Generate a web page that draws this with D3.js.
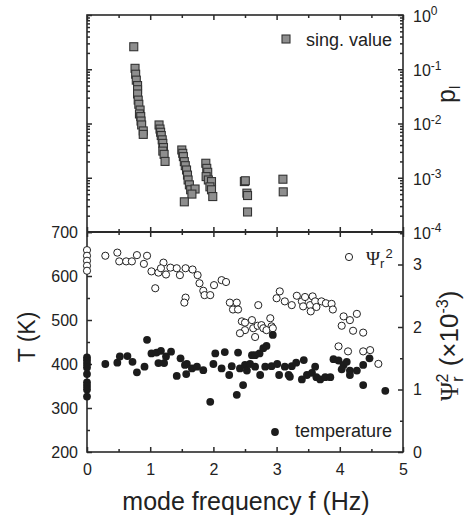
<!DOCTYPE html>
<html>
<head>
<meta charset="utf-8">
<script src="https://cdn.jsdelivr.net/npm/d3@7"></script>
<style>
  body { margin: 0; background: #fff; }
  svg { font-family: "Liberation Sans", Arial, Helvetica, sans-serif; }
  .axis path { display: none; }
  .axis line { stroke: #2a2a2a; stroke-width: 1.5; }
  .axis text { fill: #222; font-size: 16px; }
</style>
</head>
<body>
<div class="chart"></div>
<script>
// singular values (top panel)
var svFreq = [0.74, 0.76, 0.77, 0.78, 0.80, 0.80, 0.80, 0.81, 0.82, 0.84, 0.83, 0.85, 0.855, 0.865, 0.89, 0.89,
  1.14, 1.155, 1.165, 1.175, 1.19, 1.20, 1.21, 1.20, 1.22, 1.235,
  1.50, 1.515, 1.525, 1.54, 1.555, 1.575, 1.59, 1.60, 1.62, 1.64, 1.71, 1.66, 1.54,
  1.88, 1.895, 1.91, 1.885, 1.92, 1.97, 1.945, 1.97, 1.99,
  2.49, 2.505, 2.53, 2.54, 2.54, 3.10, 3.105];
var svValue = [0.26, 0.104, 0.081, 0.063, 0.050, 0.042, 0.035, 0.027, 0.0226, 0.0177, 0.0150, 0.0134, 0.0111, 0.0094, 0.0073, 0.0063,
  0.0094, 0.0079, 0.0069, 0.0060, 0.0050, 0.0043, 0.0036, 0.0031, 0.0027, 0.0020,
  0.00325, 0.00282, 0.00245, 0.00198, 0.00167, 0.00139, 0.00112, 0.00091, 0.00074, 0.00060, 0.00062, 0.00050, 0.00036,
  0.00185, 0.00149, 0.00126, 0.00105, 0.00091, 0.00085, 0.00068, 0.00060, 0.00045,
  0.00085, 0.00088, 0.00052, 0.00047, 0.000234, 0.00094, 0.00055];

// temperature (bottom panel, left axis)
var tFreq = [0, 0, 0, 0, 0, 0, 0, 0, 0,
  0.29, 0.48, 0.52, 0.64, 0.72, 0.79, 0.91, 0.95, 1.02, 1.10,
  1.13, 1.17, 1.22, 1.25, 1.33, 1.42, 1.48, 1.55, 1.57, 1.58,
  1.66, 1.74, 1.84, 1.95, 2.00, 2.03, 2.13, 2.18, 2.25, 2.29,
  2.37, 2.39, 2.42, 2.47, 2.50, 2.53, 2.58, 2.61, 2.66, 2.73,
  2.66, 2.74, 2.79, 2.84, 2.82, 2.94, 2.92, 3.01, 3.04, 3.13,
  3.19, 3.24, 3.31, 3.21, 3.40, 3.43, 3.48, 3.56, 3.61, 3.63,
  3.69, 3.77, 3.85, 3.90, 3.98, 4.06, 4.11, 4.03, 4.16, 4.16,
  4.27, 4.37, 4.47, 4.37, 4.72];
var tTemp = [415, 408, 400, 392, 377, 358, 350, 342, 326,
  400, 403, 417, 418, 405, 381, 394, 455, 424, 426,
  402, 430, 402, 417, 428, 373, 413, 398, 377, 400,
  390, 394, 386, 314, 400, 424, 390, 427, 375, 395,
  330, 426, 390, 352, 398, 385, 400, 420, 420, 424,
  394, 375, 436, 441, 394, 466, 395, 400, 375, 394,
  375, 395, 403, 371, 365, 409, 375, 380, 394, 370,
  365, 370, 370, 411, 408, 398, 405, 388, 385, 375,
  385, 398, 413, 352, 339];

// Psi_r^2 (bottom panel, right axis, x10^-3)
var psiFreq = [0, 0, 0, 0, 0,
  0.29, 0.48, 0.51, 0.62, 0.71, 0.79, 0.90, 0.95, 1.02, 1.08,
  1.13, 1.21, 1.17, 1.25, 1.32, 1.42, 1.47, 1.56, 1.56, 1.54,
  1.67, 1.75, 1.78, 1.84, 1.86, 1.95, 2.01, 2.13, 2.20, 2.26,
  2.37, 2.31, 2.39, 2.71, 2.45, 2.50, 2.61, 2.63, 2.70, 2.76,
  2.90, 2.92, 2.42, 2.66, 2.79, 2.84, 2.94, 2.50, 3.05, 3.00,
  3.13, 3.24, 3.32, 3.40, 3.42, 3.45, 3.53, 3.57, 3.61, 3.54,
  3.63, 3.71, 3.78, 3.87, 3.89, 4.06, 4.03, 4.16, 4.27, 4.21,
  4.37, 3.98, 4.13, 4.37, 4.48, 4.61];
var psiValue = [3.23, 3.14, 3.06, 2.98, 2.90,
  3.14, 3.19, 3.05, 3.05, 3.05, 3.15, 3.01, 3.14, 2.89, 2.62,
  2.87, 3.03, 2.94, 2.84, 2.95, 2.94, 2.83, 2.94, 2.47, 2.39,
  2.92, 2.83, 2.70, 2.58, 2.51, 2.51, 2.67, 2.75, 2.72, 2.39,
  2.39, 2.28, 2.28, 2.35, 2.09, 1.95, 2.11, 1.98, 2.02, 2.03,
  2.14, 2.01, 1.90, 1.84, 1.98, 1.95, 1.98, 2.07, 2.57, 2.46,
  2.41, 2.35, 2.50, 2.41, 2.33, 2.48, 2.35, 2.49, 2.41, 2.25,
  2.32, 2.41, 2.38, 2.37, 2.28, 2.17, 2.02, 2.11, 2.21, 1.94,
  1.91, 1.69, 1.61, 1.61, 1.63, 1.41];

var freqTicks = [0, 1, 2, 3, 4, 5];
var tempTicks = [200, 300, 400, 500, 600, 700];
var psiTicks = [0, 1, 2, 3];
var pDecades = [1, 0.1, 0.01, 0.001, 0.0001];

var svgWidth = 467;
var svgHeight = 520;
var plot = { left: 87, right: 403, top: 15, mid: 232, bottom: 452 };

var svg = d3.select(".chart")
  .append("svg")
  .attr("width", svgWidth)
  .attr("height", svgHeight);

var x = d3.scaleLinear().domain([0, 5]).range([plot.left, plot.right]);
var yP = d3.scaleLog().domain([1e-4, 1]).range([plot.mid, plot.top]);
var yT = d3.scaleLinear().domain([200, 700]).range([plot.bottom, plot.mid]);
var yPsi = d3.scaleLinear().domain([0, 3.52]).range([plot.bottom, plot.mid]);

// minor tick values
var halfSteps = d3.range(0, 5.01, 0.5).filter(function(d) { return d % 1 !== 0; });
var tempMinor = d3.range(250, 700, 100);
var psiMinor = [0.5, 1.5, 2.5, 3.5].filter(function(d) { return d < 3.52; });
var pMinor = [];
pDecades.forEach(function(dec) {
  if (dec >= 1) return;
  for (var k = 2; k <= 9; k++) pMinor.push(dec * k);
});

function addAxis(axisFn, scale, values, size, pos, fmt, padding) {
  var ax = axisFn(scale).tickValues(values).tickSize(size).tickSizeOuter(0)
    .tickPadding(padding || 3)
    .tickFormat(fmt || function() { return ""; });
  return svg.append("g").attr("class", "axis").attr("transform", pos).call(ax);
}

// upper panel ticks
addAxis(d3.axisTop, x, freqTicks, -5, "translate(0," + plot.top + ")");
addAxis(d3.axisTop, x, halfSteps, -3, "translate(0," + plot.top + ")");
addAxis(d3.axisBottom, x, freqTicks, -5, "translate(0," + plot.mid + ")");
addAxis(d3.axisBottom, x, halfSteps, -3, "translate(0," + plot.mid + ")");
addAxis(d3.axisLeft, yP, pDecades, -5, "translate(" + plot.left + ",0)");
addAxis(d3.axisLeft, yP, pMinor, -3, "translate(" + plot.left + ",0)");
addAxis(d3.axisRight, yP, pMinor, -3, "translate(" + plot.right + ",0)");
var pAxis = addAxis(d3.axisRight, yP, pDecades, -5, "translate(" + plot.right + ",0)", null, 10);
pAxis.selectAll(".tick text").each(function(d) {
  var t = d3.select(this).text("10").attr("dy", "0.4em");
  t.append("tspan").attr("dy", "-0.55em").attr("font-size", "12px")
    .text(String(Math.round(Math.log10(d))));
});

// lower panel ticks
addAxis(d3.axisTop, x, freqTicks, -5, "translate(0," + plot.mid + ")");
addAxis(d3.axisTop, x, halfSteps, -3, "translate(0," + plot.mid + ")");
addAxis(d3.axisBottom, x, halfSteps, -3, "translate(0," + plot.bottom + ")");
addAxis(d3.axisBottom, x, freqTicks, -5, "translate(0," + plot.bottom + ")", d3.format("d"), 12);
addAxis(d3.axisLeft, yT, tempMinor, -3, "translate(" + plot.left + ",0)");
addAxis(d3.axisLeft, yT, tempTicks, -5, "translate(" + plot.left + ",0)", d3.format("d"), 9);
addAxis(d3.axisRight, yPsi, psiMinor, -3, "translate(" + plot.right + ",0)");
addAxis(d3.axisRight, yPsi, psiTicks, -5, "translate(" + plot.right + ",0)", d3.format("d"), 10);

// frames
svg.append("rect")
  .attr("x", plot.left).attr("y", plot.top)
  .attr("width", plot.right - plot.left).attr("height", plot.bottom - plot.top)
  .attr("fill", "none").attr("stroke", "#2a2a2a").attr("stroke-width", 1.6);
svg.append("line")
  .attr("x1", plot.left).attr("x2", plot.right)
  .attr("y1", plot.mid).attr("y2", plot.mid)
  .attr("stroke", "#2a2a2a").attr("stroke-width", 1.8);

// singular value squares
var sq = 8;
svg.append("g").selectAll("rect")
  .data(svFreq)
  .enter().append("rect")
  .attr("x", function(d) { return x(d) - sq / 2; })
  .attr("y", function(d, i) { return yP(svValue[i]) - sq / 2; })
  .attr("width", sq).attr("height", sq)
  .attr("fill", "#8e8e8e").attr("stroke", "#333").attr("stroke-width", 1.1);

// Psi open circles
svg.append("g").selectAll("circle")
  .data(psiFreq)
  .enter().append("circle")
  .attr("cx", function(d) { return x(d); })
  .attr("cy", function(d, i) { return yPsi(psiValue[i]); })
  .attr("r", 3.6)
  .attr("fill", "#fff").attr("stroke", "#222").attr("stroke-width", 1);

// temperature filled circles
svg.append("g").selectAll("circle")
  .data(tFreq)
  .enter().append("circle")
  .attr("cx", function(d) { return x(d); })
  .attr("cy", function(d, i) { return yT(tTemp[i]); })
  .attr("r", 3.9)
  .attr("fill", "#1c1c1c");

// legends
svg.append("rect").attr("x", 282).attr("y", 35).attr("width", 8).attr("height", 8)
  .attr("fill", "#8e8e8e").attr("stroke", "#333").attr("stroke-width", 1.1);
svg.append("text").attr("x", 306).attr("y", 46).attr("font-size", "18px").attr("fill", "#222")
  .text("sing. value");

svg.append("circle").attr("cx", 349).attr("cy", 257).attr("r", 3.6)
  .attr("fill", "#fff").attr("stroke", "#222").attr("stroke-width", 1);
var psiLeg = svg.append("text").attr("x", 366).attr("y", 265).attr("font-size", "19px").attr("fill", "#222");
psiLeg.append("tspan").attr("font-family", "'Liberation Serif', 'Times New Roman', serif").text("Ψ");
psiLeg.append("tspan").attr("font-size", "13px").attr("dy", "3").text("r");
psiLeg.append("tspan").attr("font-size", "13px").attr("dy", "-10").attr("dx", "1").text("2");

svg.append("circle").attr("cx", 275).attr("cy", 432).attr("r", 3.9).attr("fill", "#1c1c1c");
svg.append("text").attr("x", 295).attr("y", 437).attr("font-size", "18px").attr("fill", "#222")
  .text("temperature");

// axis titles
svg.append("text")
  .attr("x", 246).attr("y", 510)
  .attr("text-anchor", "middle").attr("font-size", "25px").attr("fill", "#222")
  .text("mode frequency f (Hz)");

svg.append("text")
  .attr("transform", "translate(35,337) rotate(-90)")
  .attr("text-anchor", "middle").attr("font-size", "23px").attr("fill", "#222")
  .text("T (K)");

var pTitle = svg.append("text")
  .attr("transform", "translate(455,103) rotate(-90)")
  .attr("font-size", "25px").attr("fill", "#222");
pTitle.append("tspan").text("p");
pTitle.append("tspan").attr("font-size", "15px").attr("dy", "5").text("l");

var psiTitle = svg.append("text")
  .attr("transform", "translate(458,401) rotate(-90)")
  .attr("font-size", "26px").attr("fill", "#222");
psiTitle.append("tspan").attr("font-family", "'Liberation Serif', 'Times New Roman', serif").text("Ψ");
psiTitle.append("tspan").attr("font-size", "16px").attr("dy", "5").text("r");
psiTitle.append("tspan").attr("font-size", "16px").attr("dy", "-15").attr("dx", "-6").text("2");
psiTitle.append("tspan").attr("dy", "10").text(" (×10");
psiTitle.append("tspan").attr("font-size", "16px").attr("dy", "-10").text("-3");
psiTitle.append("tspan").attr("dy", "10").text(")");
</script>
</body>
</html>
